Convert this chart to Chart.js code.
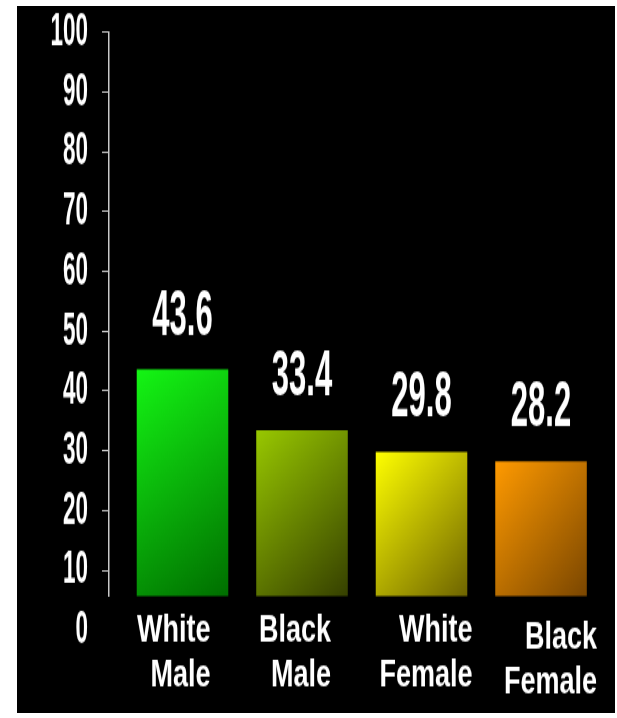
<!DOCTYPE html>
<html>
<head>
<meta charset="utf-8">
<title>Rates by race and sex</title>
<script src="https://cdn.jsdelivr.net/npm/chart.js@4.4.1/dist/chart.umd.min.js"></script>
<style>
  html, body { margin: 0; padding: 0; background: #fff; }
  #panel { position: absolute; left: 17px; top: 6px; width: 598px; height: 707px; background: #000; }
</style>
</head>
<body>
<div id="panel">
  <!-- drawn at 505px tall and stretched to 707px so the lettering comes out tall -->
  <canvas id="chart" width="598" height="505" style="width:598px;height:707px"></canvas>
</div>
<script>
// --- data ---
const categories = [['White', 'Male'], ['Black', 'Male'], ['White', 'Female'], ['Black', 'Female']];
const rates = [43.6, 33.4, 29.8, 28.2];
const yTicks = [0, 10, 20, 30, 40, 50, 60, 70, 80, 90, 100];

// axis ranges
const yAxisStart = 5.7;
const yAxisEnd = 100;
const xRange = [-0.615, 3.552];

// bar fills: bright at the top-left corner, dark at the bottom-right
const barLight = ['#14f514', '#98c800', '#ffff00', '#ff9a00'];
const barDark = ['#006e00', '#364000', '#6e6400', '#7a4600'];
const BAR_PCT = 0.766;

// numbers are set in a squeezed bold face
const NUM_SQUEEZE = 0.66;
const numFont = "'Liberation Sans', Arial, sans-serif";

// where each category label's right edge sits relative to its bar centre
const labelOffsets = [[28, 0], [29, 0], [51, 0], [56, 5]];

// linear axis whose tick labels are squeezed horizontally about their right edge
class CondensedLinearScale extends Chart.LinearScale {
    static id = 'condensedLinear';
    static defaults = {};

    drawLabels(chartArea) {
        const items = this.getLabelItems(chartArea);
        if (!items.length) return;
        const ax = items[0].options.translation[0];
        const ctx = this.ctx;
        ctx.save();
        ctx.translate(ax, 0);
        ctx.scale(NUM_SQUEEZE, 1);
        ctx.translate(-ax, 0);
        super.drawLabels(chartArea);
        ctx.restore();
    }
}
Chart.register(CondensedLinearScale);

function barGradient(context) {
    const chart = context.chart;
    const i = context.dataIndex;
    const area = chart.chartArea;
    if (!area) return barLight[i];
    const xs = chart.scales.x;
    const ys = chart.scales.y;
    const cx = xs.getPixelForValue(i);
    const half = (xs.getPixelForValue(1) - xs.getPixelForValue(0)) * BAR_PCT / 2;
    const top = ys.getPixelForValue(rates[i]);
    const g = chart.ctx.createLinearGradient(cx - half, top, cx + half, area.bottom);
    g.addColorStop(0, barLight[i]);
    g.addColorStop(1, barDark[i]);
    return g;
}

// numbers above the bars
const valueLabels = {
    id: 'valueLabels',
    afterDatasetsDraw(chart) {
        const ctx = chart.ctx;
        const bars = chart.getDatasetMeta(0).data;
        bars.forEach((bar, i) => {
            ctx.save();
            ctx.fillStyle = '#ffffff';
            ctx.font = 'bold 47px ' + numFont;
            ctx.textAlign = 'center';
            ctx.textBaseline = 'alphabetic';
            ctx.translate(bar.x, 0);
            ctx.scale(NUM_SQUEEZE, 1);
            ctx.fillText(rates[i].toFixed(1), 0, bar.y - 25);
            ctx.restore();
        });
    }
};

// category labels are right-aligned and sit a little right of their bars
const labelNudge = {
    id: 'labelNudge',
    beforeDraw(chart) {
        const scale = chart.scales.x;
        scale.getLabelItems().forEach((item, i) => {
            if (item._nudged) return;
            item._nudged = true;
            const [dx, dy] = labelOffsets[i];
            item.options.textAlign = 'right';
            item.options.translation = [scale.getPixelForTick(i) + dx, item.options.translation[1] + dy];
        });
    }
};

new Chart(document.getElementById('chart'), {
    type: 'bar',
    data: {
        datasets: [{
            data: rates.map((v, i) => ({ x: i, y: v })),
            backgroundColor: barGradient,
            borderWidth: 0,
            barPercentage: BAR_PCT,
            categoryPercentage: 1,
            clip: 0
        }]
    },
    plugins: [labelNudge, valueLabels],
    options: {
        responsive: false,
        devicePixelRatio: 1,
        animation: false,
        layout: { padding: { top: 18.57, right: 8, bottom: 0, left: 0 } },
        plugins: {
            legend: { display: false },
            tooltip: { enabled: false }
        },
        scales: {
            x: {
                type: 'linear',
                min: xRange[0],
                max: xRange[1],
                offset: false,
                grid: { display: false, drawTicks: false },
                border: { display: false },
                afterBuildTicks: s => { s.ticks = categories.map((_, i) => ({ value: i })); },
                afterFit: s => { s.height = 83.57; s.paddingLeft = 0; s.paddingRight = 0; },
                ticks: {
                    autoSkip: false,
                    maxRotation: 0,
                    padding: 9,
                    color: '#ffffff',
                    font: { family: "'Liberation Sans', Arial, sans-serif", weight: 'bold', size: 27, lineHeight: 1.19 },
                    callback: (value, index) => categories[index]
                }
            },
            y: {
                type: 'condensedLinear',
                min: yAxisStart,
                max: yAxisEnd,
                beginAtZero: false,
                afterBuildTicks: s => { s.ticks = yTicks.map(v => ({ value: v })); },
                afterFit: s => { s.width = 92; s.paddingTop = 0; s.paddingBottom = 0; },
                grid: {
                    drawOnChartArea: false,
                    tickLength: 7,
                    lineWidth: 1,
                    color: c => (c.tick && c.tick.value === 0) ? 'rgba(0,0,0,0)' : '#c8c8c8'
                },
                border: { color: '#c8c8c8', width: 1.5 },
                ticks: {
                    autoSkip: false,
                    padding: 14,
                    color: '#ffffff',
                    font: { family: numFont, weight: 'bold', size: 34 }
                }
            }
        }
    }
});
</script>
</body>
</html>
